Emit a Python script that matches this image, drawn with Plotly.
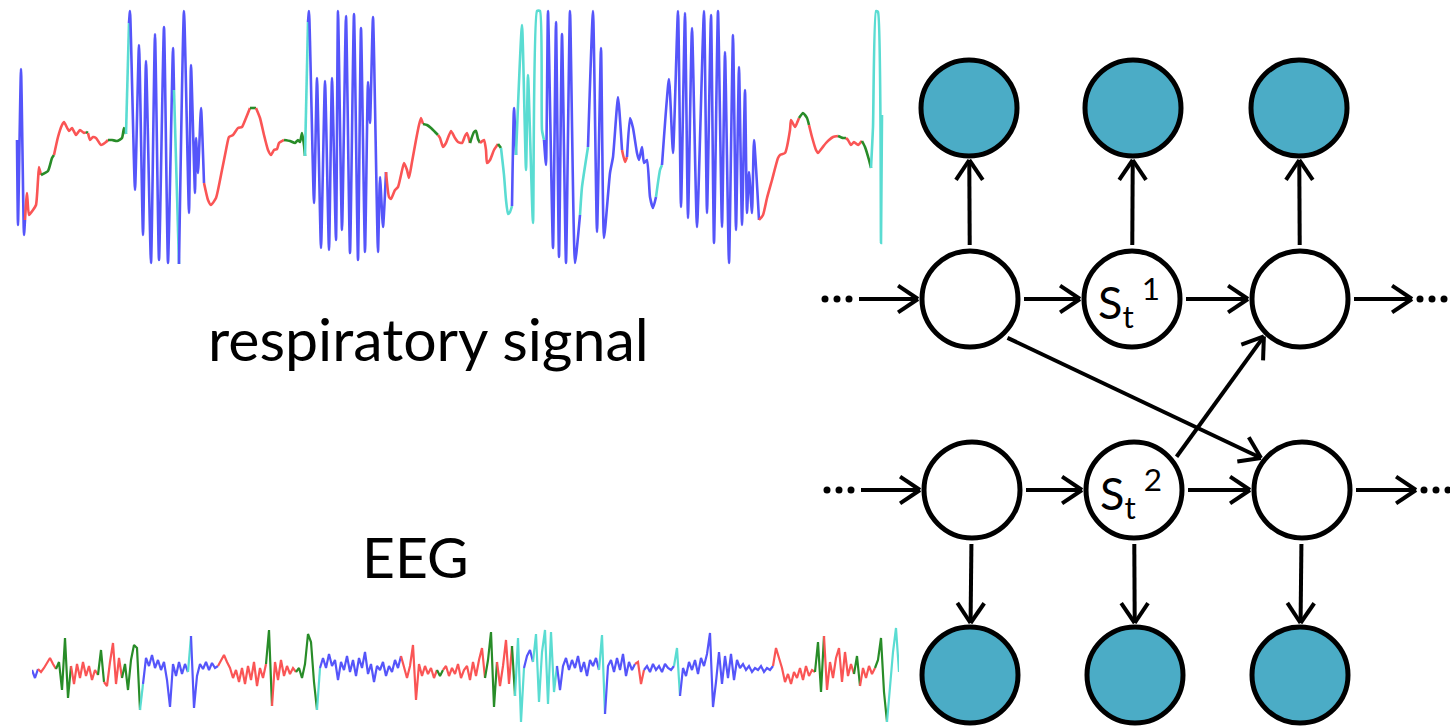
import math
import plotly.graph_objects as go

# ---------------- data ----------------
COLORS = {"blue": "rgb(85,85,250)", "red": "rgb(250,85,85)",
          "green": "rgb(40,140,40)", "cyan": "rgb(90,220,210)"}

# respiratory signal: (colour, time, level) segments
resp_segments = [
    ("blue", [17, 18, 21, 24, 25], [140, 225, 69, 235, 220]),
    ("red", [25, 27, 29, 33, 36, 38, 39, 41], [220, 193, 215, 210, 205, 180, 167, 175]),
    ("green", [41, 48, 52, 54], [175, 171, 158, 155]),
    ("red", [54, 58, 62, 64, 69, 72, 76, 80, 84, 86], [155, 137, 125, 122, 131, 128, 135, 130, 133, 132]),
    ("green", [86, 88], [132, 133]),
    ("red", [88, 90, 93, 96, 101, 106, 108], [133, 140, 137, 138, 145, 142, 140]),
    ("green", [108, 112, 117, 122, 124, 126], [140, 140, 141, 138, 128, 134]),
    ("cyan", [126, 129], [134, 23]),
    ("blue", [129, 130, 135, 139, 143, 146, 151, 155, 159, 164, 168, 173, 174],
     [23, 11, 190, 45, 235, 61, 263, 34, 260, 27, 263, 48, 90]),
    ("cyan", [174, 179], [90, 264]),
    ("blue", [179, 184, 189, 191, 195, 196, 198, 201, 204], [264, 11, 213, 65, 193, 138, 173, 108, 183]),
    ("red", [204, 208, 211, 216, 222, 226, 229, 233, 238, 242, 246, 250],
     [183, 200, 205, 198, 170, 150, 137, 135, 128, 127, 118, 108]),
    ("green", [250, 256], [108, 108]),
    ("red", [256, 260, 264, 268, 271, 274, 277, 279, 282, 284], [108, 118, 135, 150, 155, 150, 149, 143, 141, 140]),
    ("green", [284, 290, 295, 298, 300, 302, 304, 305], [140, 141, 143, 140, 142, 133, 145, 156]),
    ("cyan", [305, 308], [156, 22]),
    ("blue", [308, 309, 314, 317, 321, 325, 329, 332, 336, 338, 342, 346, 350, 354, 358, 361, 365, 368, 370, 373, 378, 380, 383, 386],
     [22, 11, 203, 78, 248, 81, 250, 78, 240, 11, 230, 16, 253, 14, 260, 28, 252, 82, 123, 17, 252, 177, 227, 172]),
    ("red", [386, 389, 391, 395, 398, 401, 404, 407, 409, 412, 416, 419, 421, 423],
     [172, 197, 199, 190, 187, 175, 163, 170, 178, 162, 140, 125, 118, 124]),
    ("green", [423, 427, 431, 435, 438], [124, 125, 128, 132, 135]),
    ("red", [438, 440, 443, 446, 451, 455, 458, 462, 465, 467, 470], [135, 138, 147, 143, 131, 138, 142, 143, 136, 133, 143]),
    ("green", [470, 474, 476, 478, 480], [143, 132, 131, 139, 143]),
    ("red", [480, 484, 486, 487, 490, 494, 498], [143, 140, 150, 163, 160, 150, 144]),
    ("green", [498, 501], [144, 148]),
    ("cyan", [501, 504, 506, 508, 510, 512], [148, 175, 200, 214, 212, 206]),
    ("blue", [512, 514, 516], [206, 108, 155]),
    ("cyan", [516, 522, 526, 528, 533, 537, 540, 542, 544], [155, 25, 170, 75, 223, 11, 11, 130, 140]),
    ("blue", [544, 546, 548, 553, 556, 559, 562, 566, 570, 575, 580], [140, 165, 11, 248, 22, 257, 34, 263, 11, 263, 215]),
    ("cyan", [580, 582, 588], [215, 187, 147]),
    ("blue", [588, 593, 597, 601, 604, 610, 613, 618, 622], [147, 11, 232, 48, 238, 173, 157, 97, 150]),
    ("red", [622, 625, 627], [150, 162, 157]),
    ("blue", [627, 630, 633, 637, 639, 642, 644, 647, 650, 653, 656], [157, 118, 128, 153, 160, 147, 163, 160, 197, 208, 197]),
    ("cyan", [656, 660, 662], [197, 170, 165]),
    ("blue", [662, 669, 673, 678, 681, 685, 688, 692, 697, 704, 707, 711, 714, 718, 722, 725, 729, 733, 736, 739, 742, 745, 747, 749, 752, 754, 759],
     [165, 79, 153, 11, 207, 13, 218, 28, 227, 11, 213, 15, 243, 11, 227, 52, 263, 35, 230, 67, 225, 90, 213, 172, 213, 140, 220]),
    ("red", [759, 763, 767, 772, 778, 780, 785, 790, 791, 795, 797, 799], [220, 215, 198, 180, 158, 155, 153, 130, 120, 127, 123, 118]),
    ("green", [799, 803, 807, 809], [118, 113, 118, 125]),
    ("red", [809, 812, 816, 818, 822, 826, 829, 833, 838], [125, 137, 150, 153, 148, 143, 140, 137, 136]),
    ("green", [838, 843, 846], [136, 138, 138]),
    ("red", [846, 848, 851, 854, 858, 861, 862], [138, 140, 145, 142, 145, 142, 141]),
    ("green", [862, 865, 869, 871], [141, 147, 160, 168]),
    ("cyan", [871, 873, 876, 878, 881, 882], [168, 127, 11, 12, 243, 115]),
]

# EEG: consecutive samples (amplitude), grouped by colour
eeg_segments = [
    ("blue", [2, -6, 3]),
    ("red", [0, 4, 9, 14, 8, 3]),
    ("green", [10, -18, 34, -26, 6]),
    ("red", [-12, 8, -6, 10, -4, 6, -8, 2, -3]),
    ("green", [22, -10]),
    ("red", [-14, 10, 29, -12, 14, -6]),
    ("green", [8, -18, 12, 27, 24, -38]),
    ("cyan", [-12]),
    ("blue", [14, 6, 17, 4, 12, 2, 10, -8, -35, 8, -4, 10, -2, 8, 0]),
    ("cyan", [36]),
    ("blue", [-36, -4, 8, 3, 10, 2, 9, 4, 6]),
    ("red", [12, 17, 10, 4, -6, 2, -10, 4, -12, 6, -8, 10, -14, 4, -6, 8]),
    ("green", [42, -34]),
    ("red", [10, -8, 12, -4, 6, -2, 4, 0]),
    ("green", [4, -6, 8, 38, 30, -10, -38]),
    ("cyan", [4]),
    ("blue", [14, 4, 18, 6, 12, -8, 10, 2, 16, 0, 12, -4, 14, 4, 20, -2, 8, -10, 6, 2, 10, -4, 6, 0, 12, 4, 16]),
    ("red", [4, -6, 6, 27, -28, 8, -4, 6, -2, 4, -6, 2]),
    ("green", [-4, 2]),
    ("red", [6, -4, 4, -2, 8, -6, 2, 6, -8, 10, -4, 12, 24, -6]),
    ("green", [12, 40, -35, 10]),
    ("red", [-14, 6, 32, -12, 26]),
    ("green", [-24]),
    ("cyan", [34, -50, 4]),
    ("blue", [16, 22, 10]),
    ("cyan", [38, -30, 20, 42, -32, 40, -20, 6]),
    ("blue", [-18, 6, 14, 2, 12, 4, 16, 0, 10, -4, 12, 6, 14, 2]),
    ("cyan", [37, -42]),
    ("blue", [6, 12, 0, 14, 2, 18, -4, 10, 2, 8]),
    ("red", [10, -12, 2]),
    ("blue", [6, 0, 8, 2, 6, 0, 8, 4, 2, 6]),
    ("cyan", [24, -24]),
    ("blue", [4, -4, 10, 2, 12, -2, 14, 6, 18, 39, -35, -10, 20, -12, 16, -6, 18, -8, 12, 4, 8, 2, 6, 0, 4, 2, 6, 0, 4, 2, 6]),
    ("red", [24, 14, 4, -10, -2, -12, 0, -6, 4, -8, 6, -4, 2, 0]),
    ("green", [30, -20, 36]),
    ("red", [-18, 10, -6, 14, 24, -10, 20, -4, 8, -2]),
    ("green", [16, -14]),
    ("red", [4, -6, 6, -2, 4]),
    ("green", [12, 34, -20, -50]),
    ("cyan", [-12, 20, 44, 0]),
]

# graph nodes
node_names = ["o1", "o2", "o3", "a1", "a2", "a3", "b1", "b2", "b3", "p1", "p2", "p3"]
node_x = [969, 1133, 1299, 970, 1132, 1300, 972, 1134, 1302, 970, 1135, 1300]
node_y = [108, 108, 108, 299, 299, 299, 490, 490, 490, 675, 675, 675]
node_fill = ["teal", "teal", "teal", "white", "white", "white", "white", "white", "white", "teal", "teal", "teal"]
node_label = {"a2": "S<sub>t</sub><sup> 1</sup>", "b2": "S<sub>t</sub><sup> 2</sup>"}
dot_names = ["La", "Ra", "Lb", "Rb"]
dot_x = [837, 1432, 839, 1436]
dot_y = [299, 299, 490, 490]
edges = [
    ("La", "a1", None, None), ("a1", "a2", None, None), ("a2", "a3", None, None), ("a3", "Ra", None, None),
    ("Lb", "b1", None, None), ("b1", "b2", None, None), ("b2", "b3", None, None), ("b3", "Rb", None, None),
    ("a1", "o1", None, None), ("a2", "o2", None, None), ("a3", "o3", None, None),
    ("b1", "p1", None, None), ("b2", "p2", None, None), ("b3", "p3", None, None),
    ("a1", "b3", 46, 218), ("b2", "a3", -38, 134),
]

# ---------------- figure ----------------
fig = go.Figure()

for col, xs, ys in resp_segments:
    fig.add_trace(go.Scatter(x=xs, y=ys, mode="lines",
                             line=dict(color=COLORS[col], width=2.6, shape="spline", smoothing=0.5),
                             hoverinfo="skip", showlegend=False))

idx = 0
prev = None
for col, vals in eeg_segments:
    xs = list(range(idx, idx + len(vals)))
    ys = list(vals)
    if prev is not None:
        xs = [idx - 1] + xs
        ys = [prev] + ys
    fig.add_trace(go.Scatter(x=xs, y=ys, mode="lines", line=dict(color=COLORS[col], width=2.2),
                             xaxis="x2", yaxis="y2", hoverinfo="skip", showlegend=False))
    idx += len(vals)
    prev = vals[-1]
n_eeg = idx

R = 48
R_OUT = 51
GAP = 3
pos = {n: (x, y) for n, x, y in zip(node_names, node_x, node_y)}
rad = {n: R_OUT for n in node_names}
for n, x, y in zip(dot_names, dot_x, dot_y):
    pos[n] = (x, y)
    rad[n] = 19

TEAL = "#4BACC6"
shapes = []
for n, x, y, f in zip(node_names, node_x, node_y, node_fill):
    shapes.append(dict(type="circle", xref="x", yref="y", x0=x - R, x1=x + R, y0=y - R, y1=y + R,
                       line=dict(color="black", width=5), fillcolor=TEAL if f == "teal" else "white",
                       layer="above"))

ax, ay = [], []
HEAD = 24
HALF = math.radians(34)
for a, b, sa, ea in edges:
    (x1, y1), (x2, y2) = pos[a], pos[b]
    dx, dy = x2 - x1, y2 - y1
    L = math.hypot(dx, dy)
    ux, uy = dx / L, dy / L
    if sa is None:
        sx, sy = x1 + (rad[a] + GAP) * ux, y1 + (rad[a] + GAP) * uy
    else:
        sx, sy = x1 + (rad[a] + GAP) * math.cos(math.radians(sa)), y1 + (rad[a] + GAP) * math.sin(math.radians(sa))
    if ea is None:
        tx, ty = x2 - (rad[b] + 1) * ux, y2 - (rad[b] + 1) * uy
    else:
        tx, ty = x2 + (rad[b] + 1) * math.cos(math.radians(ea)), y2 + (rad[b] + 1) * math.sin(math.radians(ea))
    vx, vy = tx - sx, ty - sy
    vl = math.hypot(vx, vy)
    vx, vy = vx / vl, vy / vl
    ax += [sx, tx, None]
    ay += [sy, ty, None]
    for s in (1, -1):
        c, si = math.cos(math.pi + s * HALF), math.sin(math.pi + s * HALF)
        hx = vx * c - vy * si
        hy = vx * si + vy * c
        ax += [tx + HEAD * hx, tx, None]
        ay += [ty + HEAD * hy, ty, None]
fig.add_trace(go.Scatter(x=ax, y=ay, mode="lines", line=dict(color="black", width=4),
                         hoverinfo="skip", showlegend=False))

# ellipsis dots ("···") next to the dangling arrows
ex, ey = [], []
for x, y in zip(dot_x, dot_y):
    for off in (-12, 0, 12):
        ex.append(x + off)
        ey.append(y)
fig.add_trace(go.Scatter(x=ex, y=ey, mode="markers", marker=dict(color="black", size=7, symbol="circle"),
                         hoverinfo="skip", showlegend=False))

FONT = "Lato, Open Sans, sans-serif"
annotations = [
    dict(x=428, y=338, text="respiratory signal", showarrow=False, font=dict(size=59, color="black", family=FONT),
         xanchor="center", yanchor="middle"),
    dict(x=415, y=556, text="EEG", showarrow=False, font=dict(size=57, color="black", family=FONT),
         xanchor="center", yanchor="middle"),
]
for n, t in node_label.items():
    x, y = pos[n]
    annotations.append(dict(x=x - 3, y=y + 3, text=t, showarrow=False, font=dict(size=45, color="black", family=FONT),
                            xanchor="center", yanchor="middle"))

fig.update_layout(
    width=1450, height=728, margin=dict(l=0, r=0, t=0, b=0),
    paper_bgcolor="white", plot_bgcolor="white",
    xaxis=dict(range=[0, 1450], visible=False, domain=[0, 1], fixedrange=True),
    yaxis=dict(range=[728, 0], visible=False, domain=[0, 1], fixedrange=True),
    xaxis2=dict(range=[0, n_eeg - 1], domain=[32 / 1450, 899 / 1450], visible=False, anchor="y2", fixedrange=True),
    yaxis2=dict(range=[-56, 56], domain=[0, 112 / 728], visible=False, anchor="x2", fixedrange=True),
    shapes=shapes, annotations=annotations,
)

fig.write_html("out.html", config={"displayModeBar": False},
               post_script="document.body.style.margin='0';document.body.style.overflow='hidden';")
